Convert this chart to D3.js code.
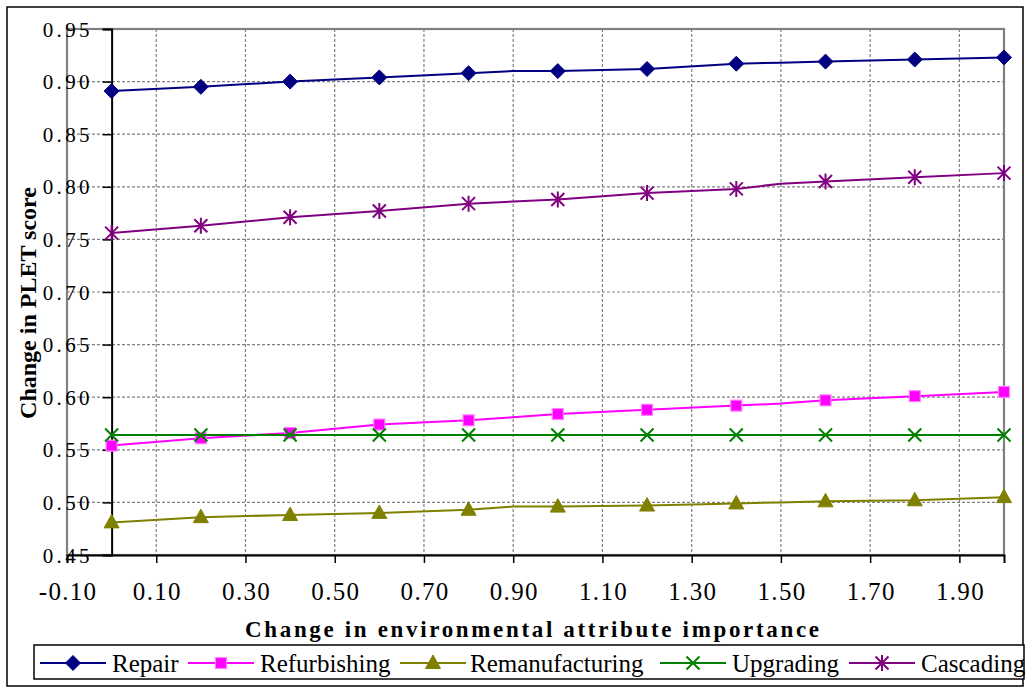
<!DOCTYPE html>
<html>
<head>
<meta charset="utf-8">
<script src="https://cdn.jsdelivr.net/npm/d3@7"></script>
<style>
  html, body { margin: 0; padding: 0; background: #fff; }
  svg { display: block; }
  svg text { font-family: "Liberation Serif", "Times New Roman", serif; }
</style>
</head>
<body>
<svg id="chart" width="1030" height="689"></svg>
<script>
// ---- data ----
const xValues = [0, 0.2, 0.4, 0.6, 0.8, 0.9, 1.0, 1.2, 1.4, 1.5, 1.6, 1.8, 2.0];
const markerShown = [true, true, true, true, true, false, true, true, true, false, true, true, true];
const repair          = [0.891, 0.895, 0.900, 0.904, 0.908, 0.910, 0.910, 0.912, 0.917, 0.918, 0.919, 0.921, 0.923];
const refurbishing    = [0.554, 0.561, 0.566, 0.574, 0.578, 0.581, 0.584, 0.588, 0.592, 0.594, 0.597, 0.601, 0.605];
const remanufacturing = [0.481, 0.486, 0.488, 0.490, 0.493, 0.496, 0.496, 0.497, 0.499, 0.500, 0.501, 0.502, 0.505];
const upgrading       = [0.564, 0.564, 0.564, 0.564, 0.564, 0.564, 0.564, 0.564, 0.564, 0.564, 0.564, 0.564, 0.564];
const cascading       = [0.756, 0.763, 0.771, 0.777, 0.784, 0.786, 0.788, 0.794, 0.798, 0.803, 0.805, 0.809, 0.813];
const seriesNames = ["Repair", "Refurbishing", "Remanufacturing", "Upgrading", "Cascading"];
const xTickValues = [-0.1, 0.1, 0.3, 0.5, 0.7, 0.9, 1.1, 1.3, 1.5, 1.7, 1.9];
const yTickValues = [0.45, 0.50, 0.55, 0.60, 0.65, 0.70, 0.75, 0.80, 0.85, 0.90, 0.95];
const xTitle = "Change in environmental attribute importance";
const yTitle = "Change in PLET score";

const seriesValues = [repair, refurbishing, remanufacturing, upgrading, cascading];
const colors = ["#000080", "#FF00FF", "#808000", "#008000", "#800080"];
const shapes = ["diamond", "square", "triangle", "x", "star"];
const SERIF = "\"Liberation Serif\", \"Times New Roman\", serif";

// ---- layout ----
const svg = d3.select("#chart");
const L = 67, R = 1004, T = 29, B = 555;
const x = d3.scaleLinear().domain([-0.1, 2.0]).range([L, R]);
const y = d3.scaleLinear().domain([0.45, 0.95]).range([B, T]);

// outer border
svg.append("rect").attr("x", 7).attr("y", 7).attr("width", 1016).attr("height", 679)
  .attr("fill", "#fff").attr("stroke", "#000").attr("stroke-width", 1.5);

// gridlines
const grid = svg.append("g");
grid.selectAll("line.h").data(yTickValues.slice(1, -1)).join("line")
  .attr("x1", L).attr("x2", R).attr("y1", d => y(d)).attr("y2", d => y(d))
  .attr("stroke", "#808080").attr("stroke-width", 1.2).attr("stroke-dasharray", "3,2");
grid.selectAll("line.v").data(xTickValues.slice(1)).join("line")
  .attr("x1", d => x(d)).attr("x2", d => x(d)).attr("y1", T).attr("y2", B)
  .attr("stroke", "#808080").attr("stroke-width", 1.2).attr("stroke-dasharray", "3,2");

// plot-area frame (gray)
svg.append("rect").attr("x", L).attr("y", T).attr("width", R - L).attr("height", B - T)
  .attr("fill", "none").attr("stroke", "#808080").attr("stroke-width", 2.2);

// x axis at y=0.45
const xAxis = d3.axisBottom(x).tickValues(xTickValues).tickSize(8).tickFormat("");
const gx = svg.append("g").attr("transform", `translate(0,${B})`).call(xAxis)
  .attr("font-family", SERIF);
gx.select(".domain").attr("stroke", "#000").attr("stroke-width", 2);
gx.selectAll(".tick line").attr("stroke", "#000").attr("stroke-width", 1.5);
gx.selectAll(".tick").append("text")
  .attr("y", 45).attr("fill", "#000").attr("text-anchor", "middle")
  .attr("font-family", SERIF)
  .attr("font-size", 25).attr("letter-spacing", 1.3)
  .attr("dx", 0.6)
  .text(d => d.toFixed(2));

// y axis at x=0
const yAxis = d3.axisLeft(y).tickValues(yTickValues).tickSize(9).tickFormat("");
const gy = svg.append("g").attr("transform", `translate(${x(0)},0)`).call(yAxis)
  .attr("font-family", SERIF);
gy.select(".domain").attr("stroke", "#000").attr("stroke-width", 2);
gy.selectAll(".tick line").attr("stroke", "#000").attr("stroke-width", 1.5);
svg.append("g").selectAll("text").data(yTickValues).join("text")
  .attr("x", 93).attr("y", d => y(d) + 7.5).attr("text-anchor", "end")
  .attr("font-family", SERIF)
  .attr("font-size", 21).attr("letter-spacing", 3.4)
  .text(d => d.toFixed(2));

// axis titles
svg.append("text").attr("x", 532).attr("y", 637).attr("text-anchor", "middle")
  .attr("font-family", SERIF)
  .attr("font-size", 23).attr("font-weight", "bold")
  .attr("textLength", 574).attr("lengthAdjust", "spacing")
  .text(xTitle);
svg.append("text").attr("transform", "translate(36,303) rotate(-90)").attr("text-anchor", "middle")
  .attr("font-family", SERIF)
  .attr("font-size", 24).attr("font-weight", "bold")
  .text(yTitle);

// markers
function drawMarker(g, shape, color, cx, cy) {
  if (shape === "diamond") {
    g.append("path").attr("d", `M${cx},${cy - 7.5}L${cx + 7.5},${cy}L${cx},${cy + 7.5}L${cx - 7.5},${cy}Z`)
      .attr("fill", color).attr("stroke", color).attr("stroke-width", 1);
  } else if (shape === "square") {
    g.append("rect").attr("x", cx - 5.5).attr("y", cy - 5.5).attr("width", 11).attr("height", 11)
      .attr("fill", color).attr("stroke", "#ff80ff").attr("stroke-width", 1.2);
  } else if (shape === "triangle") {
    g.append("path").attr("d", `M${cx},${cy - 8}L${cx + 7.5},${cy + 5.5}L${cx - 7.5},${cy + 5.5}Z`)
      .attr("fill", color).attr("stroke", color).attr("stroke-width", 1);
  } else if (shape === "x") {
    g.append("path").attr("d", `M${cx - 6.5},${cy - 6.5}L${cx + 6.5},${cy + 6.5}M${cx - 6.5},${cy + 6.5}L${cx + 6.5},${cy - 6.5}`)
      .attr("stroke", color).attr("stroke-width", 2).attr("fill", "none");
  } else if (shape === "star") {
    g.append("path").attr("d", `M${cx - 6.5},${cy - 6.5}L${cx + 6.5},${cy + 6.5}M${cx - 6.5},${cy + 6.5}L${cx + 6.5},${cy - 6.5}M${cx},${cy - 8}L${cx},${cy + 8}`)
      .attr("stroke", color).attr("stroke-width", 2).attr("fill", "none");
  }
}

const line = d3.line().x(d => x(d[0])).y(d => y(d[1]));
seriesValues.forEach((vals, i) => {
  const pts = xValues.map((xv, j) => [xv, vals[j]]);
  const g = svg.append("g");
  g.append("path").attr("d", line(pts)).attr("fill", "none")
    .attr("stroke", colors[i]).attr("stroke-width", 2);
  pts.forEach((p, j) => {
    if (markerShown[j]) drawMarker(g, shapes[i], colors[i], x(p[0]), y(p[1]));
  });
});

// legend
const legendLineX = [40, 188, 400, 660, 849];
const legendTextX = [112, 260, 470, 732, 921];
svg.append("rect").attr("x", 34).attr("y", 645).attr("width", 990).attr("height", 34)
  .attr("fill", "#fff").attr("stroke", "#000").attr("stroke-width", 1.5);
seriesNames.forEach((name, i) => {
  const g = svg.append("g");
  const x0 = legendLineX[i];
  g.append("line").attr("x1", x0).attr("x2", x0 + 66).attr("y1", 663).attr("y2", 663)
    .attr("stroke", colors[i]).attr("stroke-width", 2);
  drawMarker(g, shapes[i], colors[i], x0 + 33, 663);
  g.append("text").attr("x", legendTextX[i]).attr("y", 672)
    .attr("font-family", SERIF)
    .attr("font-size", 25).text(name);
});
</script>
</body>
</html>
